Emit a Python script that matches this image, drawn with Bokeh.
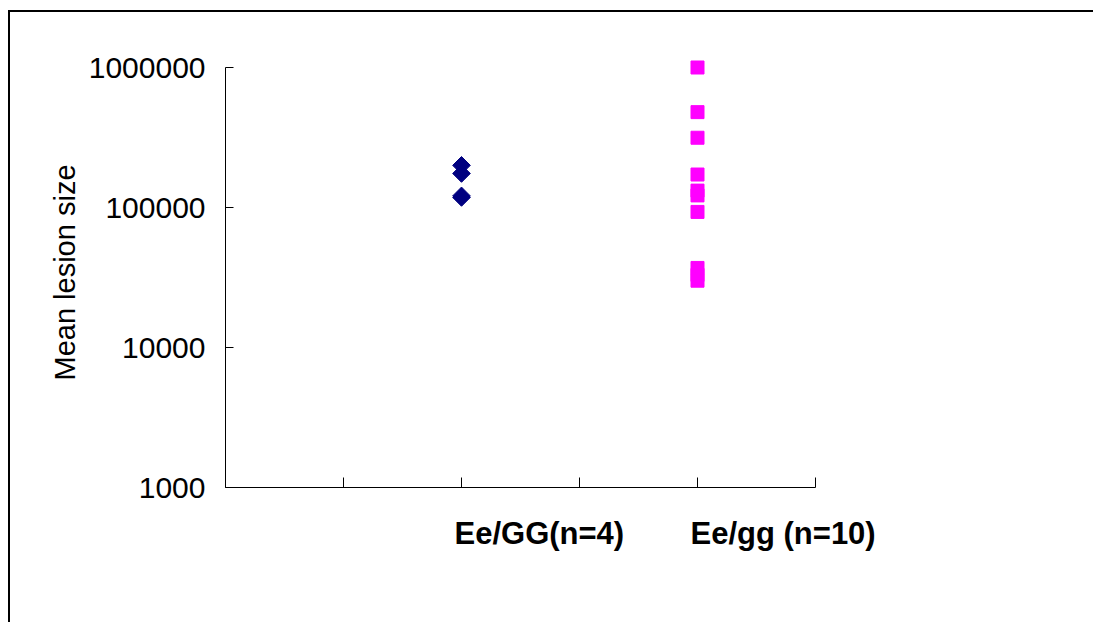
import numpy as np
from bokeh.plotting import figure
from bokeh.models import Range1d, FixedTicker, Label
from bokeh.embed import file_html
from bokeh.resources import INLINE

# ---- data ----
groups = ["Ee/GG(n=4)", "Ee/gg (n=10)"]
group_pos = [2, 4]
gg_upper_values = [200000, 175000, 121000, 118000]          # Ee/GG (n=4)
gg_lower_values = [1000000, 480000, 315000, 172000, 132000,
                   122000, 93000, 37000, 33000, 30000]       # Ee/gg (n=10)
y_ticks = [1000, 10000, 100000, 1000000]
y_tick_labels = ["1000", "10000", "100000", "1000000"]
x_ticks = [0, 1, 2, 3, 4, 5]
y_label = "Mean lesion size"

FONT = "Liberation Sans"
top_pad_decades = 1 / 14   # a little headroom so the top marker is not cut

p = figure(
    output_backend="svg", toolbar_location=None,
    y_axis_type="log",
    x_range=Range1d(x_ticks[0], x_ticks[-1]),
    y_range=Range1d(y_ticks[0], y_ticks[-1] * 10 ** top_pad_decades),
    frame_width=590, frame_height=430,
    min_border_left=215, min_border_top=45,
    min_border_right=278, min_border_bottom=135,
)
p.styles = {"border-left": "2px solid #000000", "border-top": "2px solid #000000",
            "margin-left": "8px", "margin-top": "10px"}
p.outline_line_color = None
p.xgrid.visible = False
p.ygrid.visible = False
p.background_fill_color = "white"
p.border_fill_color = "white"

# x axis (tick marks only; group names are drawn as labels below)
p.xaxis.ticker = FixedTicker(ticks=x_ticks)
p.xaxis.major_label_overrides = {t: "" for t in x_ticks}
p.xaxis.major_tick_in = 10
p.xaxis.major_tick_out = 0
p.xaxis.minor_tick_line_color = None
p.xaxis.axis_line_color = "black"
p.xaxis.major_tick_line_color = "black"

# y axis
p.yaxis.ticker = FixedTicker(ticks=y_ticks, minor_ticks=[])
p.yaxis.bounds = (y_ticks[0], y_ticks[-1])
p.yaxis.major_label_overrides = {t: l for t, l in zip(y_ticks, y_tick_labels)}
p.yaxis.major_label_text_font = FONT
p.yaxis.major_label_text_font_size = "30px"
p.yaxis.major_label_text_color = "black"
p.yaxis.major_label_standoff = 20
p.yaxis.major_tick_in = 8
p.yaxis.major_tick_out = 0
p.yaxis.minor_tick_line_color = None
p.yaxis.axis_label = y_label
p.yaxis.axis_label_text_font = FONT
p.yaxis.axis_label_text_font_size = "29px"
p.yaxis.axis_label_text_font_style = "normal"
p.yaxis.axis_label_text_color = "black"
p.yaxis.axis_label_standoff = 5

# points
p.scatter(x=[group_pos[0]] * len(gg_upper_values), y=gg_upper_values,
          marker="square", angle=np.pi / 4, size=12.5,
          fill_color="#000080", line_color="#000080")
p.scatter(x=[group_pos[1]] * len(gg_lower_values), y=gg_lower_values,
          marker="square", size=13,
          fill_color="#FF00FF", line_color="#FF00FF")

# category labels
for g, xpos in zip(groups, group_pos):
    p.add_layout(Label(x=xpos, y=y_ticks[0], x_offset=-7, y_offset=-46,
                       text=g, text_font=FONT, text_font_size="31px",
                       text_font_style="bold", text_color="black",
                       text_align="left", text_baseline="alphabetic"), "below")

open("out.html", "w").write(file_html(p, INLINE))
